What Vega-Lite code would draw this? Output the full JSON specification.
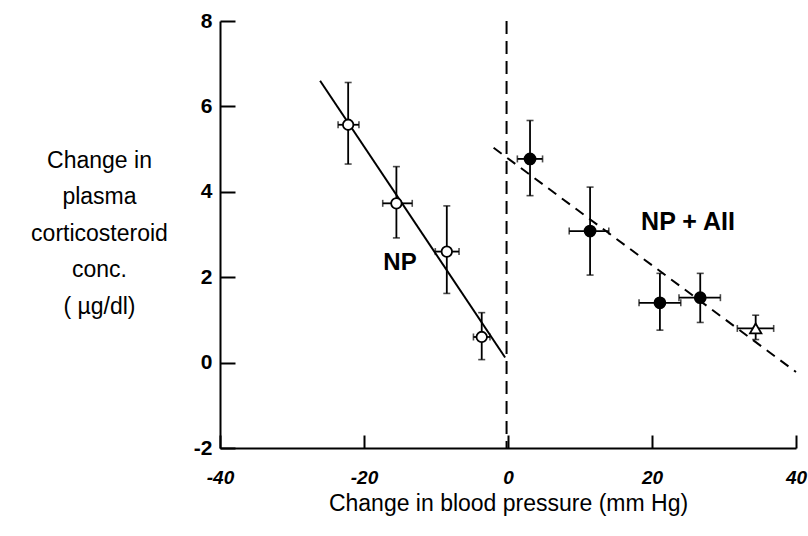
{
  "$schema": "https://vega.github.io/schema/vega-lite/v6.json",
  "width": 576,
  "height": 427,
  "autosize": "none",
  "padding": {"left": 220, "top": 21, "right": 12, "bottom": 88},
  "background": "white",
  "config": {"view": {"stroke": null}, "font": "Liberation Sans"},
  "datasets": {
    "pts": [
      {"g": "NP", "x": -22.2, "y": 5.57, "xlo": -23.6, "xhi": -20.7, "ylo": 4.65, "yhi": 6.56},
      {"g": "NP", "x": -15.5, "y": 3.73, "xlo": -17.4, "xhi": -13.3, "ylo": 2.92, "yhi": 4.59},
      {"g": "NP", "x": -8.5, "y": 2.6, "xlo": -10.1, "xhi": -6.8, "ylo": 1.62, "yhi": 3.67},
      {"g": "NP", "x": -3.65, "y": 0.6, "xlo": -4.8, "xhi": -2.5, "ylo": 0.07, "yhi": 1.17},
      {"g": "AII", "x": 3.06, "y": 4.77, "xlo": 1.3, "xhi": 4.8, "ylo": 3.91, "yhi": 5.67},
      {"g": "AII", "x": 11.4, "y": 3.08, "xlo": 8.5, "xhi": 14.0, "ylo": 2.05, "yhi": 4.11},
      {"g": "AII", "x": 21.1, "y": 1.4, "xlo": 18.2, "xhi": 24.0, "ylo": 0.76, "yhi": 2.09},
      {"g": "AII", "x": 26.7, "y": 1.52, "xlo": 23.75, "xhi": 29.5, "ylo": 0.94, "yhi": 2.09},
      {"g": "Tri", "x": 34.4, "y": 0.8, "xlo": 31.85, "xhi": 36.9, "ylo": 0.54, "yhi": 1.11}
    ],
    "npline": [{"x": -26.1, "y": 6.6}, {"x": -0.4, "y": 0.12}],
    "aiiline": [{"x": -2.0, "y": 5.03}, {"x": 40, "y": -0.22}],
    "vline": [{"x": -0.2, "y": 8, "y2": -2}],
    "labels": [
      {"x": -15, "y": 2.33, "t": "NP", "s": 24},
      {"x": 25.0, "y": 3.3, "t": "NP + AII", "s": 25}
    ]
  },
  "layer": [
    {
      "data": {"name": "npline"},
      "mark": {"type": "line", "color": "black", "strokeWidth": 2},
      "encoding": {
        "x": {
          "field": "x", "type": "quantitative",
          "scale": {"domain": [-40, 40], "nice": false, "zero": false},
          "axis": {
            "title": "Change in blood pressure (mm Hg)",
            "titleFontSize": 23, "titleFontWeight": "normal", "titleColor": "black", "titleFont": "Liberation Sans",
            "titleBaseline": "middle", "titleY": 55,
            "values": [-40, -20, 0, 20, 40],
            "labelExpr": "datum.value < 0 ? '-' + abs(datum.value) : '' + datum.value",
            "grid": false, "domainColor": "black", "domainWidth": 2,
            "tickColor": "black", "tickWidth": 2, "tickSize": -13,
            "labelPadding": 33, "labelFontSize": 19, "labelFontStyle": "italic", "labelFontWeight": "bold",
            "labelColor": "black", "labelFont": "Liberation Sans", "labelFlush": false, "labelOverlap": false
          }
        },
        "y": {
          "field": "y", "type": "quantitative",
          "scale": {"domain": [-2, 8], "nice": false, "zero": false},
          "axis": {
            "title": ["Change in", "plasma", "corticosteroid", "conc.", "( µg/dl)"],
            "titleAngle": 0, "titleX": -121, "titleY": 139, "titleAlign": "center", "titleBaseline": "middle",
            "titleLineHeight": 36.5, "titleFontSize": 23, "titleFontWeight": "normal", "titleColor": "black", "titleFont": "Liberation Sans",
            "values": [-2, 0, 2, 4, 6, 8],
            "labelExpr": "datum.value < 0 ? '-' + abs(datum.value) : '' + datum.value",
            "grid": false, "domainColor": "black", "domainWidth": 2,
            "tickColor": "black", "tickWidth": 2, "tickSize": -15,
            "labelPadding": 23, "labelFontSize": 21, "labelFontWeight": "bold",
            "labelColor": "black", "labelFont": "Liberation Sans", "labelFlush": false, "labelOverlap": false
          }
        }
      }
    },
    {
      "data": {"name": "aiiline"},
      "mark": {"type": "line", "color": "black", "strokeWidth": 2, "strokeDash": [10, 7]},
      "encoding": {
        "x": {"field": "x", "type": "quantitative"},
        "y": {"field": "y", "type": "quantitative"}
      }
    },
    {
      "data": {"name": "vline"},
      "mark": {"type": "rule", "color": "black", "strokeWidth": 2, "strokeDash": [13, 7]},
      "encoding": {
        "x": {"field": "x", "type": "quantitative"},
        "y": {"field": "y", "type": "quantitative"},
        "y2": {"field": "y2"}
      }
    },
    {
      "data": {"name": "pts"},
      "mark": {"type": "rule", "color": "black", "strokeWidth": 1.8},
      "encoding": {
        "x": {"field": "x", "type": "quantitative"},
        "y": {"field": "ylo", "type": "quantitative"},
        "y2": {"field": "yhi"}
      }
    },
    {
      "data": {"name": "pts"},
      "mark": {"type": "rule", "color": "black", "strokeWidth": 1.8},
      "encoding": {
        "x": {"field": "xlo", "type": "quantitative"},
        "x2": {"field": "xhi"},
        "y": {"field": "y", "type": "quantitative"}
      }
    },
    {
      "data": {"name": "pts"},
      "mark": {"type": "tick", "orient": "horizontal", "color": "black", "size": 7, "thickness": 1.6},
      "encoding": {
        "x": {"field": "x", "type": "quantitative"},
        "y": {"field": "ylo", "type": "quantitative"}
      }
    },
    {
      "data": {"name": "pts"},
      "mark": {"type": "tick", "orient": "horizontal", "color": "black", "size": 7, "thickness": 1.6},
      "encoding": {
        "x": {"field": "x", "type": "quantitative"},
        "y": {"field": "yhi", "type": "quantitative"}
      }
    },
    {
      "data": {"name": "pts"},
      "mark": {"type": "tick", "orient": "vertical", "color": "black", "size": 7, "thickness": 1.6},
      "encoding": {
        "x": {"field": "xlo", "type": "quantitative"},
        "y": {"field": "y", "type": "quantitative"}
      }
    },
    {
      "data": {"name": "pts"},
      "mark": {"type": "tick", "orient": "vertical", "color": "black", "size": 7, "thickness": 1.6},
      "encoding": {
        "x": {"field": "xhi", "type": "quantitative"},
        "y": {"field": "y", "type": "quantitative"}
      }
    },
    {
      "data": {"name": "pts"},
      "mark": {"type": "point", "filled": true, "stroke": "black", "strokeWidth": 1.8, "opacity": 1},
      "encoding": {
        "x": {"field": "x", "type": "quantitative"},
        "y": {"field": "y", "type": "quantitative"},
        "shape": {"field": "g", "type": "nominal", "scale": {"domain": ["NP", "AII", "Tri"], "range": ["circle", "circle", "triangle-up"]}, "legend": null},
        "fill": {"field": "g", "type": "nominal", "scale": {"domain": ["NP", "AII", "Tri"], "range": ["white", "black", "white"]}, "legend": null},
        "size": {"field": "g", "type": "nominal", "scale": {"domain": ["NP", "AII", "Tri"], "range": [110, 130, 140]}, "legend": null}
      }
    },
    {
      "data": {"name": "labels"},
      "mark": {"type": "text", "font": "Liberation Sans", "fontWeight": "bold", "color": "black", "align": "center", "baseline": "middle"},
      "encoding": {
        "x": {"field": "x", "type": "quantitative"},
        "y": {"field": "y", "type": "quantitative"},
        "text": {"field": "t"},
        "size": {"field": "s", "type": "quantitative", "scale": null, "legend": null}
      }
    }
  ]
}
